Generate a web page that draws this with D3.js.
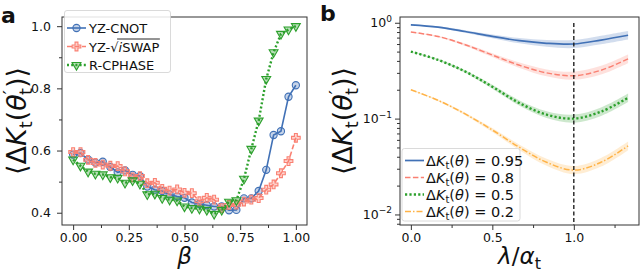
<!DOCTYPE html>
<html>
<head>
<meta charset="utf-8">
<script src="https://cdn.jsdelivr.net/npm/d3@7/dist/d3.min.js"></script>
<style>
body { margin: 0; background: #fff; }
text { font-family: "DejaVu Sans", sans-serif; fill: #111; }
</style>
</head>
<body>
<script>
// ---- panel a: mean distance vs beta ----
var betaValues = [0, 0.033, 0.067, 0.1, 0.133, 0.167, 0.2, 0.233, 0.267, 0.3, 0.333,
    0.367, 0.4, 0.433, 0.467, 0.5, 0.533, 0.567, 0.6, 0.633, 0.667,
    0.7, 0.733, 0.767, 0.8, 0.833, 0.867, 0.9, 0.933, 0.967, 1.0];
var cnotValues = [0.587, 0.592, 0.571, 0.561, 0.564, 0.547, 0.530, 0.536, 0.522, 0.518, 0.484,
    0.474, 0.470, 0.459, 0.452, 0.448, 0.433, 0.428, 0.424, 0.420, 0.420,
    0.408, 0.409, 0.446, 0.446, 0.470, 0.538, 0.650, 0.662, 0.773, 0.810];
var iswapValues = [0.595, 0.595, 0.570, 0.560, 0.555, 0.551, 0.550, 0.533, 0.514, 0.518, 0.495,
    0.496, 0.477, 0.471, 0.475, 0.464, 0.463, 0.437, 0.448, 0.442, 0.415,
    0.425, 0.426, 0.436, 0.442, 0.447, 0.474, 0.491, 0.527, 0.566, 0.641];
var cphaseValues = [0.571, 0.551, 0.532, 0.525, 0.523, 0.514, 0.512, 0.496, 0.504, 0.493, 0.459,
    0.461, 0.447, 0.442, 0.439, 0.420, 0.415, 0.413, 0.409, 0.396, 0.409,
    0.435, 0.440, 0.509, 0.605, 0.696, 0.830, 0.916, 0.975, 0.989, 1.0];
var seriesNamesA = ["YZ-CNOT", "YZ-√iSWAP", "R-CPHASE"];
var xTicksA = [0, 0.25, 0.5, 0.75, 1.0];
var xMinorA = [0.125, 0.375, 0.625, 0.875];
var yTicksA = [0.4, 0.6, 0.8, 1.0];
var yMinorA = [0.5, 0.7, 0.9];

// ---- panel b: mean distance vs lambda/alpha ----
var lambdaValues = [0, 0.167, 0.333, 0.5, 0.667, 0.833, 1.0, 1.167, 1.333];
var k095Values = [0.95, 0.90, 0.81, 0.72, 0.65, 0.61, 0.60, 0.66, 0.74];
var k08Values = [0.80, 0.72, 0.59, 0.46, 0.36, 0.30, 0.28, 0.32, 0.42];
var k05Values = [0.50, 0.41, 0.31, 0.215, 0.145, 0.11, 0.10, 0.118, 0.165];
var k02Values = [0.20, 0.155, 0.112, 0.076, 0.050, 0.035, 0.029, 0.035, 0.052];
var bandSpread = [0.004, 0.008, 0.013, 0.02, 0.028, 0.036, 0.042, 0.045, 0.045]; // decades
var seriesNamesB = ["0.95", "0.8", "0.5", "0.2"];
var xTicksB = [0, 0.5, 1.0];
var xMinorB = [0.25, 0.75, 1.25];
var yDecadesB = [-2, -1, 0];

var blue = "#4171b6", salmon = "#fa8072", green = "#2ca02c", orange = "#ffb347";

var svg = d3.select("body").append("svg")
    .attr("width", 640).attr("height", 272);

function yLabel(g, cx, cy) {
    var t = g.append("text")
        .attr("transform", "translate(" + cx + "," + cy + ") rotate(-90)")
        .attr("text-anchor", "middle")
        .style("font-size", "27px");
    t.append("tspan").text("⟨Δ");
    t.append("tspan").style("font-style", "italic").text("K");
    t.append("tspan").attr("dy", 6).style("font-size", "18px").text("t");
    t.append("tspan").attr("dy", -6).text("(");
    t.append("tspan").style("font-style", "italic").text("θ");
    t.append("tspan").attr("dy", -10).style("font-size", "18px").text("′");
    t.append("tspan").attr("dx", -5).attr("dy", 16).style("font-size", "18px").text("t");
    t.append("tspan").attr("dy", -6).text(")⟩");
}

function frame(g, x0, y0, x1, y1) {
    g.append("rect")
        .attr("x", x0).attr("y", y0)
        .attr("width", x1 - x0).attr("height", y1 - y0)
        .attr("fill", "none").attr("stroke", "#333").attr("stroke-width", 1);
}

function ticks(g, axis, y0) {
    var a = g.append("g").attr("transform", "translate(0," + y0 + ")").call(axis);
    a.select(".domain").remove();
    a.selectAll("line").attr("stroke", "#333");
    a.selectAll("text").style("font-size", "12.5px").attr("fill", "#111");
    return a;
}

function leftTicks(g, axis, x0) {
    var a = g.append("g").attr("transform", "translate(" + x0 + ",0)").call(axis);
    a.select(".domain").remove();
    a.selectAll("line").attr("stroke", "#333");
    a.selectAll("text").style("font-size", "12.5px").attr("fill", "#111");
    return a;
}

// ================= panel a =================
function drawPanelA() {
    var L = 62, R = 307, T = 17, B = 225;
    var g = svg.append("g");
    var x = d3.scaleLinear().domain([-0.05, 1.05]).range([L, R]);
    var y = d3.scaleLinear().domain([0.3605, 1.0295]).range([B, T]);

    ticks(g, d3.axisBottom(x).tickValues(xTicksA).tickFormat(d3.format(".2f"))
        .tickSize(5).tickPadding(3), B);
    ticks(g, d3.axisBottom(x).tickValues(xMinorA).tickFormat("").tickSize(3), B);
    leftTicks(g, d3.axisLeft(y).tickValues(yTicksA).tickFormat(d3.format(".1f"))
        .tickSize(5).tickPadding(6), L);
    leftTicks(g, d3.axisLeft(y).tickValues(yMinorA).tickFormat("").tickSize(3), L);

    var series = [
        {name: seriesNamesA[0], vals: cnotValues, color: blue, dash: null, marker: "circle"},
        {name: seriesNamesA[1], vals: iswapValues, color: salmon, dash: "5,2.5", marker: "cross"},
        {name: seriesNamesA[2], vals: cphaseValues, color: green, dash: "2,2.2", marker: "tri"}
    ];

    var line = d3.line()
        .x(function (d, i) { return x(betaValues[i]); })
        .y(function (d) { return y(d); });

    function marker(sel, type, color) {
        if (type === "circle") {
            sel.append("circle").attr("r", 3.6)
                .attr("fill", color).attr("fill-opacity", 0.3)
                .attr("stroke", color).attr("stroke-width", 1.1);
        } else if (type === "cross") {
            sel.append("path").attr("d", d3.symbol().type(d3.symbolCross).size(42)())
                .attr("fill", color).attr("fill-opacity", 0.35)
                .attr("stroke", color).attr("stroke-width", 1.1);
        } else {
            sel.append("path").attr("d", d3.symbol().type(d3.symbolTriangle).size(34)())
                .attr("transform", "rotate(180)")
                .attr("fill", color).attr("fill-opacity", 0.35)
                .attr("stroke", color).attr("stroke-width", 1.1);
        }
    }

    series.forEach(function (s) {
        g.append("path").datum(s.vals)
            .attr("d", line)
            .attr("fill", "none")
            .attr("stroke", s.color)
            .attr("stroke-width", s.marker === "tri" ? 2.4 : 1.6)
            .attr("stroke-dasharray", s.dash);
        g.selectAll(null).data(s.vals).enter()
            .append("g")
            .attr("transform", function (d, i) { return "translate(" + x(betaValues[i]) + "," + y(d) + ")"; })
            .each(function () { marker(d3.select(this), s.marker, s.color); });
    });

    frame(g, L, T, R, B);

    // legend
    var lg = g.append("g");
    lg.append("rect").attr("x", 64.5).attr("y", 10.5).attr("width", 106).attr("height", 62)
        .attr("rx", 2.5).attr("fill", "#fff").attr("fill-opacity", 0.85)
        .attr("stroke", "#d0d0d0").attr("stroke-width", 0.8);
    series.forEach(function (s, i) {
        var yy = 28 + i * 18.5;
        lg.append("line").attr("x1", 67).attr("x2", 86).attr("y1", yy).attr("y2", yy)
            .attr("stroke", s.color).attr("stroke-width", s.marker === "tri" ? 2.4 : 1.6)
            .attr("stroke-dasharray", s.dash);
        var m = lg.append("g").attr("transform", "translate(76.5," + yy + ")");
        marker(m, s.marker, s.color);
        var t = lg.append("text").attr("x", 89).attr("y", yy + 5).style("font-size", "13px");
        if (i === 1) {
            t.append("tspan").text("YZ-√");
            t.append("tspan").style("font-style", "italic").text("i");
            t.append("tspan").text("SWAP");
            var n = t.node();
            var xb = n.getEndPositionOfChar(8).x;
            var xs = n.getEndPositionOfChar(3).x;
            lg.append("line").attr("x1", xs - 1.5).attr("x2", xb + 0.5)
                .attr("y1", yy - 7.5).attr("y2", yy - 7.5)
                .attr("stroke", "#111").attr("stroke-width", 0.9);
        } else {
            t.text(s.name);
        }
    });

    // labels
    g.append("text").attr("x", (L + R) / 2).attr("y", 264).attr("text-anchor", "middle")
        .style("font-size", "23px").style("font-style", "italic").text("β");
    yLabel(g, 26, (T + B) / 2);
    g.append("text").attr("x", 1).attr("y", 23).style("font-size", "22px")
        .style("font-weight", "bold").text("a");
}

// ================= panel b =================
function drawPanelB() {
    var L = 400, R = 639, T = 17, B = 225;
    var g = svg.append("g");
    var x = d3.scaleLinear().domain([-1 / 15, 4 / 3 + 1 / 15]).range([L, R]);
    var y = d3.scaleLog().domain([Math.pow(10, -2.11), Math.pow(10, 0.06)]).range([B, T]);

    ticks(g, d3.axisBottom(x).tickValues(xTicksB).tickFormat(d3.format(".1f"))
        .tickSize(5).tickPadding(3), B);
    ticks(g, d3.axisBottom(x).tickValues(xMinorB).tickFormat("").tickSize(3), B);

    // log ticks
    var minor = [];
    [-3, -2, -1].forEach(function (e) {
        for (var k = 2; k <= 9; k++) {
            var v = k * Math.pow(10, e);
            if (v >= y.domain()[0] && v <= y.domain()[1]) minor.push(v);
        }
    });
    var majors = yDecadesB.map(function (e) { return Math.pow(10, e); });
    leftTicks(g, d3.axisLeft(y).tickValues(majors).tickFormat("").tickSize(5), L);
    leftTicks(g, d3.axisLeft(y).tickValues(minor).tickFormat("").tickSize(3), L);
    yDecadesB.forEach(function (e) {
        var t = g.append("text").attr("x", L - 8).attr("y", y(Math.pow(10, e)) + 4.5)
            .attr("text-anchor", "end").style("font-size", "12.5px");
        t.append("tspan").text("10");
        t.append("tspan").attr("dy", -5.5).style("font-size", "9px").text(e === 0 ? "0" : "−" + (-e));
    });

    var series = [
        {name: seriesNamesB[0], vals: k095Values, color: blue, dash: null, w: 1.7},
        {name: seriesNamesB[1], vals: k08Values, color: salmon, dash: "5.5,2.4", w: 1.5},
        {name: seriesNamesB[2], vals: k05Values, color: green, dash: "2.2,2.2", w: 2.4},
        {name: seriesNamesB[3], vals: k02Values, color: orange, dash: "6,2,1.5,2", w: 1.5}
    ];

    var area = d3.area()
        .x(function (d, i) { return x(lambdaValues[i]); })
        .y0(function (d, i) { return y(d * Math.pow(10, -bandSpread[i])); })
        .y1(function (d, i) { return y(d * Math.pow(10, bandSpread[i])); })
        .curve(d3.curveCatmullRom);
    var line = d3.line()
        .x(function (d, i) { return x(lambdaValues[i]); })
        .y(function (d) { return y(d); })
        .curve(d3.curveCatmullRom);

    series.forEach(function (s) {
        g.append("path").datum(s.vals).attr("d", area)
            .attr("fill", s.color).attr("fill-opacity", 0.24).attr("stroke", "none");
    });
    series.forEach(function (s) {
        g.append("path").datum(s.vals).attr("d", line)
            .attr("fill", "none").attr("stroke", s.color)
            .attr("stroke-width", s.w).attr("stroke-dasharray", s.dash);
    });

    // reference line at lambda/alpha = 1
    g.append("line").attr("x1", x(1)).attr("x2", x(1)).attr("y1", T + 6).attr("y2", B)
        .attr("stroke", "#111").attr("stroke-width", 1.3).attr("stroke-dasharray", "4,2.5");

    frame(g, L, T, R, B);

    // legend
    var lg = g.append("g");
    lg.append("rect").attr("x", 402).attr("y", 148.5).attr("width", 118).attr("height", 72.5)
        .attr("rx", 2.5).attr("fill", "#fff").attr("fill-opacity", 0.85)
        .attr("stroke", "#d0d0d0").attr("stroke-width", 0.8);
    series.forEach(function (s, i) {
        var yy = 160.5 + i * 17;
        lg.append("line").attr("x1", 405).attr("x2", 424).attr("y1", yy).attr("y2", yy)
            .attr("stroke", s.color).attr("stroke-width", s.w).attr("stroke-dasharray", s.dash);
        var t = lg.append("text").attr("x", 426).attr("y", yy + 5).style("font-size", "14.5px");
        t.append("tspan").text("Δ");
        t.append("tspan").style("font-style", "italic").text("K");
        t.append("tspan").attr("dy", 3.5).style("font-size", "10px").text("t");
        t.append("tspan").attr("dy", -3.5).text("(");
        t.append("tspan").style("font-style", "italic").text("θ");
        t.append("tspan").text(") = " + s.name);
    });

    // labels
    var xl = g.append("text").attr("x", (L + R) / 2).attr("y", 264).attr("text-anchor", "middle")
        .style("font-size", "23px");
    xl.append("tspan").style("font-style", "italic").text("λ");
    xl.append("tspan").text("/");
    xl.append("tspan").style("font-style", "italic").text("α");
    xl.append("tspan").attr("dy", 5).style("font-size", "16px").text("t");
    yLabel(g, 352, (T + B) / 2);
    g.append("text").attr("x", 320).attr("y", 21).style("font-size", "22px")
        .style("font-weight", "bold").text("b");
}

drawPanelA();
drawPanelB();
</script>
</body>
</html>
